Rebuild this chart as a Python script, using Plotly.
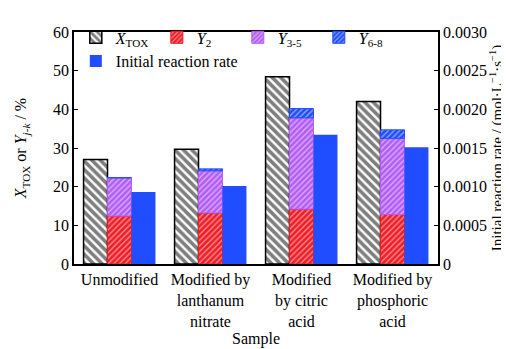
import plotly.graph_objects as go

categories = ["Unmodified", "Modified by<br>lanthanum<br>nitrate", "Modified<br>by citric<br>acid", "Modified by<br>phosphoric<br>acid"]
x_tox = [27.0, 29.7, 48.4, 42.0]
y2 = [12.4, 13.2, 14.2, 12.8]
y3_5 = [9.9, 10.9, 23.6, 19.7]
y6_8 = [0.0, 0.5, 2.4, 2.2]
rate = [0.00093, 0.00101, 0.00167, 0.00151]
left_ticks = [0, 10, 20, 30, 40, 50, 60]
right_ticks = [0, 0.0005, 0.0010, 0.0015, 0.0020, 0.0025, 0.0030]
right_ticktext = ["0", "0.0005", "0.0010", "0.0015", "0.0020", "0.0025", "0.0030"]

base_35 = [a for a in y2]
base_68 = [a + b for a, b in zip(y2, y3_5)]

RED = "#ee1c25"
PURPLE = "#b35cf5"
BLUE = "#1f4dff"
FF = "Liberation Serif, Times New Roman, DejaVu Serif, serif"

def f(size=16):
    return dict(family=FF, size=size, color="black")

fig = go.Figure()
fig.add_trace(go.Bar(
    x=categories, y=x_tox, name="<i>X</i><sub>TOX</sub>",
    offsetgroup="a", alignmentgroup="g",
    marker=dict(color="white", line=dict(color="black", width=1.5),
                pattern=dict(shape="\\", fgcolor="black", bgcolor="white", size=6, solidity=0.6, fillmode="overlay")),
    yaxis="y",
))
fig.add_trace(go.Bar(
    x=categories, y=y2, name="<i>Y</i><sub>2</sub>",
    offsetgroup="b", alignmentgroup="g",
    marker=dict(color=RED, line=dict(color=RED, width=1),
                pattern=dict(shape="/", fgcolor="white", size=4, solidity=0.35, fillmode="overlay")),
    yaxis="y",
))
fig.add_trace(go.Bar(
    x=categories, y=y3_5, base=base_35, name="<i>Y</i><sub>3-5</sub>",
    offsetgroup="b", alignmentgroup="g",
    marker=dict(color=PURPLE, line=dict(color=PURPLE, width=1),
                pattern=dict(shape="/", fgcolor="white", size=4, solidity=0.35, fillmode="overlay")),
    yaxis="y",
))
fig.add_trace(go.Bar(
    x=categories, y=y6_8, base=base_68, name="<i>Y</i><sub>6-8</sub>",
    offsetgroup="b", alignmentgroup="g",
    marker=dict(color=BLUE, line=dict(color=BLUE, width=1),
                pattern=dict(shape="/", fgcolor="white", size=4, solidity=0.35, fillmode="overlay")),
    yaxis="y",
))
fig.add_trace(go.Bar(
    x=categories, y=rate, name="Initial reaction rate",
    offsetgroup="c", alignmentgroup="g",
    marker=dict(color=BLUE, line=dict(width=0)),
    yaxis="y2",
))

fig.update_layout(
    width=509, height=349,
    margin=dict(l=66, r=79, t=18, b=88),
    paper_bgcolor="white", plot_bgcolor="white",
    font=f(16),
    barmode="group", bargap=0.21, bargroupgap=0,
    showlegend=True,
    legend=dict(orientation="h", x=0.005, y=1.05, xanchor="left", yanchor="top",
                bgcolor="rgba(0,0,0,0)", font=f(16), entrywidth=36,
                traceorder="normal", itemwidth=30, tracegroupgap=0),
    xaxis=dict(showline=True, linecolor="black", linewidth=1.5, mirror=True,
               ticks="", title=dict(text="Sample", standoff=4, font=f(16)),
               tickfont=f(16)),
    yaxis=dict(range=[0, 60], tickvals=left_ticks, showline=True, linecolor="black", linewidth=1.5,
               ticks="inside", ticklen=4, tickcolor="black", showgrid=False, zeroline=False,
               tickfont=f(16),
               title=dict(text="<i>X</i><sub>TOX</sub> or <i>Y</i><sub><i>j</i>-<i>k</i></sub> / %",
                          standoff=22, font=f(16))),
    yaxis2=dict(range=[0, 0.003], tickvals=right_ticks, ticktext=right_ticktext,
                overlaying="y", side="right",
                showline=True, linecolor="black", linewidth=1.5,
                ticks="inside", ticklen=4, tickcolor="black", showgrid=False, zeroline=False,
                tickfont=f(16),
                title=dict(text="Initial reaction rate / (mol·L<sup>−1</sup>·s<sup>−1</sup>)",
                           standoff=6, font=f(15))),
)

fig.write_html("out.html")
